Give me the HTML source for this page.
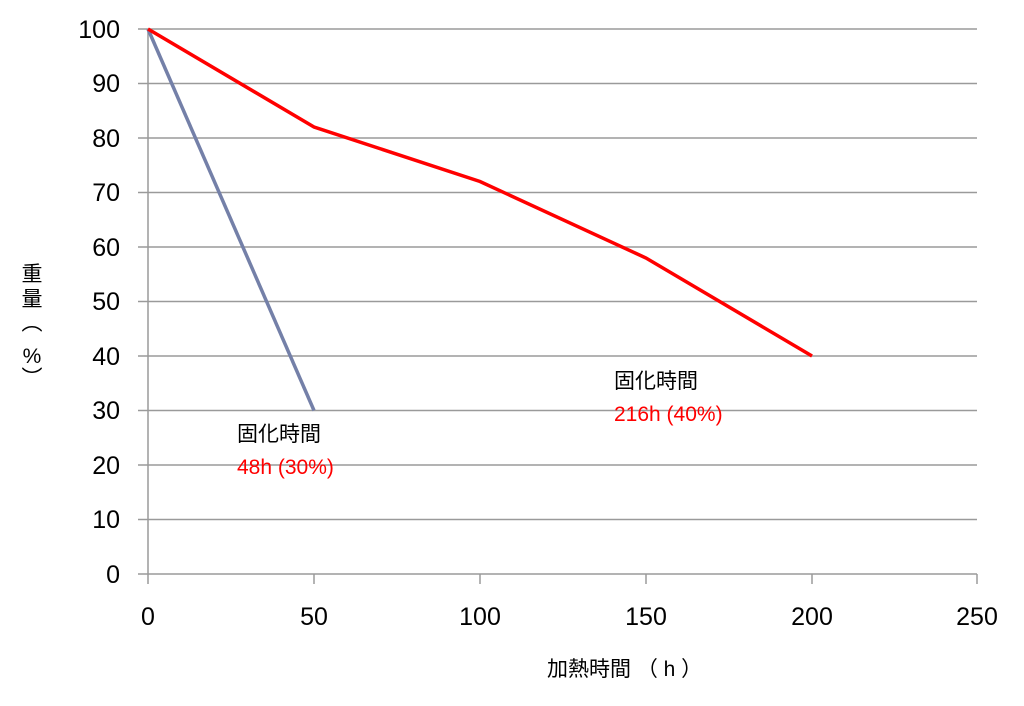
<!DOCTYPE html>
<html><head><meta charset="utf-8"><style>
html,body{margin:0;padding:0;background:#fff;}
svg text{font-family:"Liberation Sans","Noto Sans CJK JP",sans-serif;}
</style></head><body>
<svg width="1024" height="701" viewBox="0 0 1024 701" xmlns="http://www.w3.org/2000/svg">
<g stroke="#9a9a9a" stroke-width="1.5">
<line x1="138" y1="29" x2="977" y2="29"/>
<line x1="138" y1="83.5" x2="977" y2="83.5"/>
<line x1="138" y1="138" x2="977" y2="138"/>
<line x1="138" y1="192.5" x2="977" y2="192.5"/>
<line x1="138" y1="247" x2="977" y2="247"/>
<line x1="138" y1="301.5" x2="977" y2="301.5"/>
<line x1="138" y1="356" x2="977" y2="356"/>
<line x1="138" y1="410.5" x2="977" y2="410.5"/>
<line x1="138" y1="465" x2="977" y2="465"/>
<line x1="138" y1="519.5" x2="977" y2="519.5"/>
<line x1="138" y1="574" x2="977" y2="574"/>
<line x1="148" y1="29" x2="148" y2="584"/>
<line x1="314" y1="574" x2="314" y2="584"/>
<line x1="480" y1="574" x2="480" y2="584"/>
<line x1="646" y1="574" x2="646" y2="584"/>
<line x1="812" y1="574" x2="812" y2="584"/>
<line x1="977" y1="574" x2="977" y2="584"/>
</g>
<g font-size="25" text-anchor="end" fill="#000">
<text x="120" y="38">100</text><text x="120" y="92">90</text><text x="120" y="147">80</text>
<text x="120" y="201">70</text><text x="120" y="256">60</text><text x="120" y="310">50</text>
<text x="120" y="365">40</text><text x="120" y="419">30</text><text x="120" y="474">20</text>
<text x="120" y="528">10</text><text x="120" y="583">0</text>
</g>
<g font-size="25" text-anchor="middle" fill="#000">
<text x="148" y="625">0</text><text x="314" y="625">50</text><text x="480" y="625">100</text>
<text x="646" y="625">150</text><text x="812" y="625">200</text><text x="977" y="625">250</text>
</g>
<polyline points="148,29 314,410.5" fill="none" stroke="#7480a8" stroke-width="3.5"/>
<polyline points="148,29 314,127 480,181.5 646,258 812,356" fill="none" stroke="#ff0000" stroke-width="3.5"/>
<g font-size="21" fill="#000">
<text x="237" y="441">固化時間</text>
<text x="614" y="388">固化時間</text>
<text x="547" y="676">加熱時間 （ h ）</text>
</g>
<g font-size="21" fill="#ff0000">
<text x="237" y="474">48h (30%)</text>
<text x="614" y="421">216h (40%)</text>
</g>
<g font-size="21" fill="#000" text-anchor="middle">
<text x="32" y="281">重</text>
<text x="32" y="306">量</text>
<text x="32" y="330">︵</text>
<text x="32" y="363">%</text>
<text x="32" y="385">︶</text>
</g>
</svg>
</body></html>
